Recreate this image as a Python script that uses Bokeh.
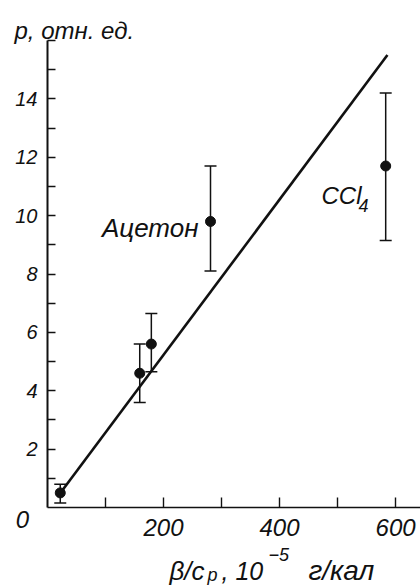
from bokeh.plotting import figure
from bokeh.models import Range1d, FixedTicker, Label, ColumnDataSource, Whisker, TeeHead, LinearAxis
from bokeh.embed import file_html
from bokeh.resources import INLINE

# ---- data ----
x_vals = [22, 159, 179, 281, 583]          # beta/cp, 10^-5 g/cal
y_vals = [0.5, 4.6, 5.6, 9.8, 11.7]         # p, rel. units
y_upper = [0.8, 5.6, 6.65, 11.7, 14.2]
y_lower = [0.15, 3.6, 4.65, 8.1, 9.15]
fit_x = [26, 586]
fit_y = [0.6, 15.5]
x_ticks = [100, 200, 300, 400, 500, 600]
x_labels = {200: "200", 400: "400", 600: "600"}
y_ticks = list(range(1, 17))
y_labels = {2: "2", 4: "4", 6: "6", 8: "8", 10: "10", 12: "12", 14: "14"}
x_axis_end = 643
y_axis_end = 16

FONT = "Liberation Sans"
INK = "#111111"

W, H = 420, 588
# pixel positions of the axes' origin and ends inside the canvas
OX, OY, TOP = 47, 507, 40
sx = (W - OX) / x_axis_end
sy = (OY - TOP) / y_axis_end

p = figure(width=W, height=H,
           x_range=Range1d(-OX / sx, x_axis_end),
           y_range=Range1d(-(H - OY) / sy, y_axis_end + TOP / sy),
           x_axis_type=None, y_axis_type=None,
           output_backend="svg", toolbar_location=None,
           min_border=0, min_border_left=0, min_border_right=0,
           min_border_top=0, min_border_bottom=0,
           outline_line_color=None, background_fill_color="white",
           border_fill_color="white")
p.grid.visible = False

def dx(px):
    return (px - OX) / sx
def dy(py):
    return (OY - py) / sy

# axes placed at the origin
xa = LinearAxis(fixed_location=0, bounds=(0, x_axis_end))
xa.ticker = FixedTicker(ticks=x_ticks)
xa.major_label_overrides = {t: x_labels.get(t, "") for t in x_ticks}
xa.major_tick_in = 10
xa.major_tick_out = 0
xa.minor_tick_line_color = None
xa.axis_line_width = 1.6
xa.major_tick_line_width = 1.4
xa.axis_line_color = INK
xa.major_tick_line_color = INK
xa.major_label_text_font = FONT
xa.major_label_text_font_style = "italic"
xa.major_label_text_font_size = "24px"
xa.major_label_text_color = INK
xa.major_label_standoff = 11
p.add_layout(xa, "below")

ya = LinearAxis(fixed_location=0, bounds=(0, y_axis_end))
ya.ticker = FixedTicker(ticks=y_ticks)
ya.major_label_overrides = {t: y_labels.get(t, "") for t in y_ticks}
ya.major_tick_in = 8
ya.major_tick_out = 0
ya.minor_tick_line_color = None
ya.axis_line_width = 2
ya.major_tick_line_width = 1.4
ya.axis_line_color = INK
ya.major_tick_line_color = INK
ya.major_label_text_font = FONT
ya.major_label_text_font_style = "italic"
ya.major_label_text_font_size = "20px"
ya.major_label_text_color = INK
ya.major_label_standoff = 10
p.add_layout(ya, "left")

# fit line
p.line(fit_x, fit_y, line_color=INK, line_width=2.6)

# error bars
src = ColumnDataSource(dict(x=x_vals, y=y_vals, up=y_upper, lo=y_lower))
wh = Whisker(source=src, base="x", upper="up", lower="lo", dimension="height",
             line_color=INK, line_width=1.5,
             upper_head=TeeHead(size=12, line_color=INK, line_width=1.5),
             lower_head=TeeHead(size=12, line_color=INK, line_width=1.5))
p.add_layout(wh)

p.scatter("x", "y", source=src, size=10, fill_color=INK, line_color=INK)

def lab(text, px, py, size, align="left", baseline="alphabetic", style="italic"):
    p.add_layout(Label(x=dx(px), y=dy(py), text=text, text_font=FONT,
                       text_font_size=size, text_font_style=style,
                       text_align=align, text_baseline=baseline, text_color=INK))

# annotations
lab("Ацетон", 198, 227, "26px", align="right")
lab("CCl", 321, 195, "24px")
lab("4", 358, 205, "18px")

# axis titles
lab("p, отн. ед.", 14, 30, "24px")
lab("0", 22, 519, "24px", align="center", baseline="middle")
lab("β/c", 169, 570, "26px")
lab("p", 207, 574, "18px")
lab(", 10", 221, 570, "25px")
lab("−5", 268, 554, "18px")
lab("г/кал", 308, 570, "28px")

open("out.html", "w").write(file_html(p, INLINE))
